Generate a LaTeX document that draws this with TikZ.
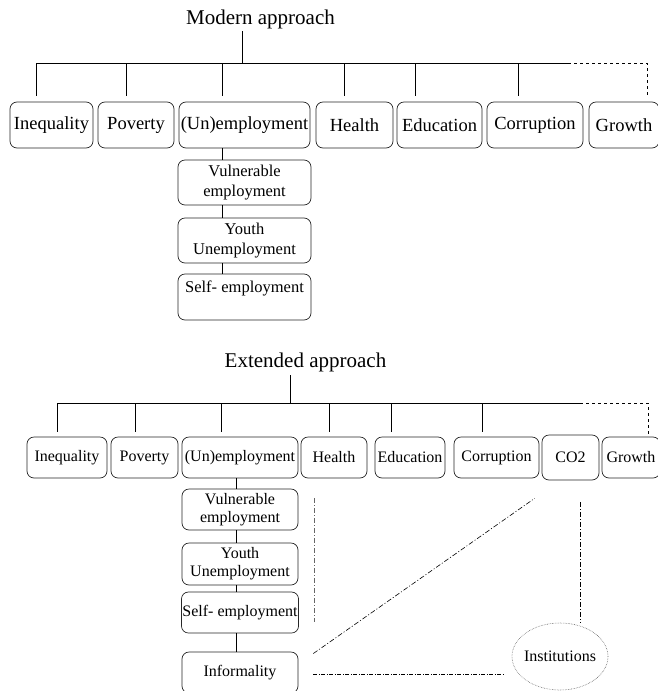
\documentclass[tikz,border=0pt]{standalone}
\usepackage{fontspec}
\setmainfont{Liberation Serif}
\usetikzlibrary{shapes.geometric}

\begin{document}
\begin{tikzpicture}[x=1pt,y=-1pt,line width=0.7pt,
    catbox/.style={draw=black!85,rounded corners=7pt,inner sep=1pt,align=center},
    topbox/.style={catbox,minimum height=46pt,font=\fontsize{18.5}{21}\selectfont},
    subbox/.style={catbox,minimum width=133pt,minimum height=45pt,font=\fontsize{16.5}{20}\selectfont},
    lowbox/.style={catbox,minimum height=41pt,font=\fontsize{16}{18}\selectfont},
    headtext/.style={anchor=base,inner sep=0pt,font=\fontsize{21}{24}\selectfont},
    dashdot/.style={line width=0.6pt,dash pattern=on 5pt off 2pt on 1pt off 2pt},
    dashdotdot/.style={line width=0.6pt,dash pattern=on 4pt off 1.5pt on 1pt off 1.5pt}]
    \useasboundingbox (0,0) rectangle (657,691);
    \node[headtext] (titleA) at (260.5,24) {Modern approach};
    \coordinate (barAL) at (36,63);
    \coordinate (barAM) at (568,63);
    \coordinate (barAR) at (647,63);
    \node[topbox,minimum width=83pt] (ineqA) at (51.5,125) {Inequality};
    \node[topbox,minimum width=76pt] (povA) at (136,125) {Poverty};
    \node[topbox,minimum width=131pt] (unempA) at (244.5,125) {(Un)employment};
    \node[topbox,minimum width=77pt] (healthA) at (354.5,125) {Health};
    \node[topbox,minimum width=85pt] (eduA) at (439.5,125) {Education};
    \node[topbox,minimum width=96pt] (corrA) at (535,125) {Corruption};
    \node[topbox,minimum width=70pt] (growA) at (624,125) {Growth};
    \node[subbox] (vulA) at (244.5,182.5) {Vulnerable\\employment};
    \node[subbox] (youthA) at (244.5,240.5) {Youth\\Unemployment};
    \node[subbox,minimum height=46pt] (selfA) at (244.5,297) {Self- employment\\ \mbox{}};
    \draw ([xshift=-18.5pt,yshift=-7pt]titleA.base) -- ([xshift=-18.5pt]titleA.base |- barAL);
    \draw (barAL) -- (barAM);
    \draw[dashed,line width=0.6pt] (barAM) -- (barAR) -- ([yshift=6pt]barAR |- growA.north);
    \foreach \n/\dx in {ineqA/-15.5,povA/-10,unempA/-22.5,healthA/-10.5,eduA/-24.5,corrA/-17}
        \draw ([xshift=\dx pt]\n.north |- barAL) -- ([xshift=\dx pt,yshift=6pt]\n.north);
    \foreach \a/\b in {unempA/vulA,vulA/youthA,youthA/selfA}
        \draw ([xshift=-22.5pt]\a.south) -- ([xshift=-22.5pt]\b.north);

    \node[headtext] (titleB) at (305.5,367) {Extended approach};
    \coordinate (barBL) at (57,403);
    \coordinate (barBM) at (580,403);
    \coordinate (barBR) at (648,403);
    \node[lowbox,minimum width=80pt] (ineqB) at (67,457.5) {Inequality};
    \node[lowbox,minimum width=67pt] (povB) at (144.5,457.5) {Poverty};
    \node[lowbox,minimum width=116pt] (unempB) at (240,457.5) {(Un)employment};
    \node[lowbox,minimum width=66pt] (healthB) at (334,457.5) {Health};
    \node[lowbox,minimum width=70pt] (eduB) at (410,457.5) {Education};
    \node[lowbox,minimum width=85pt] (corrB) at (496.5,457.5) {Corruption};
    \node[lowbox,minimum width=57pt,minimum height=45pt] (co2B) at (570.5,457.5) {CO2};
    \node[lowbox,minimum width=58pt] (growB) at (631,457.5) {Growth};
    \node[lowbox,minimum width=116pt] (vulB) at (240,509.5) {Vulnerable\\employment};
    \node[lowbox,minimum width=116pt,minimum height=42pt] (youthB) at (240,564) {Youth\\Unemployment};
    \node[lowbox,minimum width=116pt] (selfB) at (240,612.5) {Self- employment};
    \node[lowbox,minimum width=116pt] (infB) at (240,672.5) {Informality};
    \node[ellipse,draw=black!60,densely dotted,line width=0.6pt,minimum width=96pt,minimum height=67pt,
        label={[font=\fontsize{16}{18}\selectfont]center:Institutions}] (inst) at (560,656.5) {};
    \coordinate (braceT) at (314,498);
    \coordinate (braceB) at (314,622);
    \draw ([xshift=-15.5pt,yshift=-8pt]titleB.base) -- ([xshift=-15.5pt]titleB.base |- barBL);
    \draw (barBL) -- (barBM);
    \draw[dashed,line width=0.6pt] (barBM) -- (barBR) -- ([yshift=3pt]barBR |- growB.north);
    \foreach \n/\dx in {ineqB/-10,povB/-9.5,unempB/-19,healthB/-5,eduB/-19,corrB/-14.5}
        \draw ([xshift=\dx pt]\n.north |- barBL) -- ([xshift=\dx pt,yshift=5pt]\n.north);
    \foreach \a/\b in {unempB/vulB,vulB/youthB,youthB/selfB,selfB/infB}
        \draw ([xshift=-4pt]\a.south) -- ([xshift=-4pt]\b.north);
    \draw[dashdot,black!60] (braceT) -- (braceB);
    \draw[dashdot] ([xshift=15pt,yshift=19pt]infB.east) -- ([xshift=-7pt,yshift=-18pt]co2B.south west);
    \draw[dashdotdot] ([xshift=15pt,yshift=-2pt]infB.east) -- ([xshift=-8pt,yshift=-2pt]infB.east -| inst.west);
    \draw[dashdot] ([xshift=9.5pt,yshift=-22pt]co2B.south) -- ([xshift=20pt]inst.north);
\end{tikzpicture}
\end{document}
